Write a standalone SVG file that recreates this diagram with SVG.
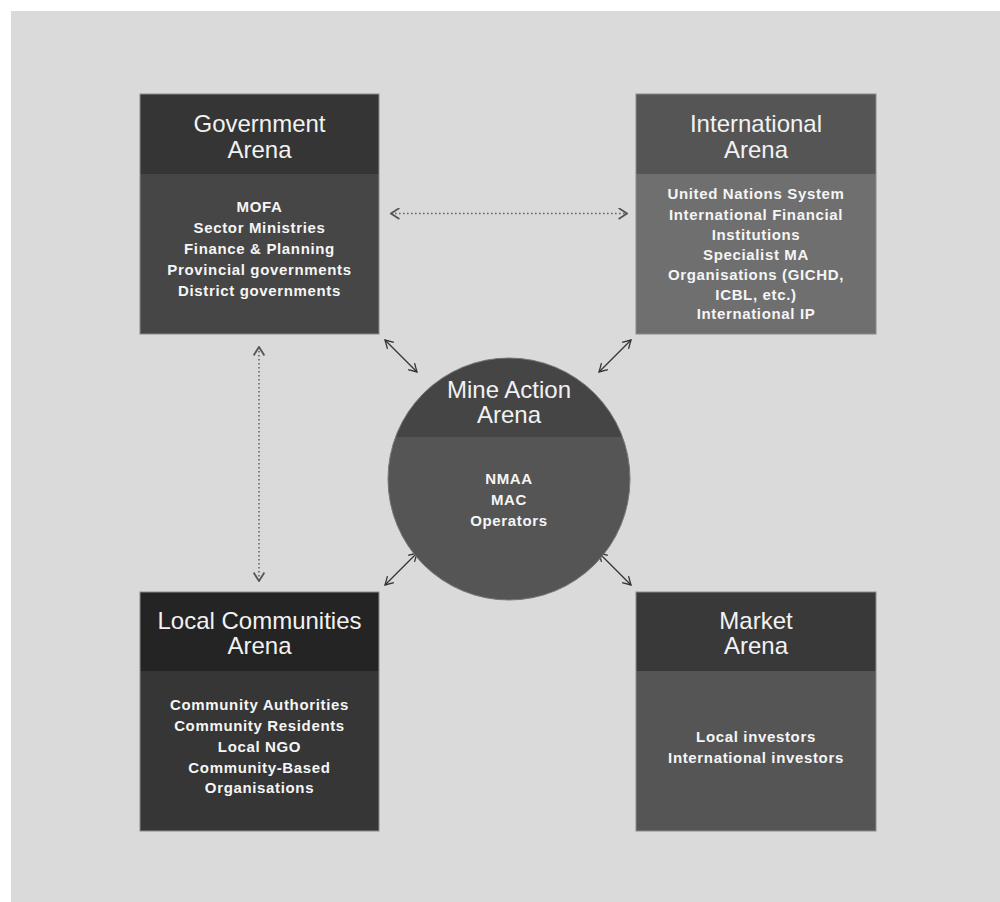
<svg xmlns="http://www.w3.org/2000/svg" width="1000" height="902" viewBox="0 0 1000 902">
<style>
.title{font-family:"Liberation Sans",Arial,sans-serif;font-size:24px;fill:#f2f2f2;text-anchor:middle}
.body{font-family:"Liberation Sans",Arial,sans-serif;font-size:15px;font-weight:bold;letter-spacing:0.65px;fill:#f5f5f5;text-anchor:middle}
.edge{fill:none;stroke:#8a8a8a;stroke-width:1}
.dot{fill:none;stroke:#666;stroke-width:1.6;stroke-dasharray:1.6 2.4}
.solid{fill:none;stroke:#333;stroke-width:1.2}
</style>
<defs>
<marker id="ah" viewBox="0 0 10 10" refX="9" refY="5" markerWidth="10" markerHeight="10" markerUnits="userSpaceOnUse" orient="auto-start-reverse">
<path d="M1,0.5 L9,5 L1,9.5" fill="none" stroke="#333" stroke-width="1.3"/>
</marker>
<marker id="ahd" viewBox="0 0 10 10" refX="9" refY="5" markerWidth="12" markerHeight="12" markerUnits="userSpaceOnUse" orient="auto-start-reverse">
<path d="M2,0.5 L9,5 L2,9.5" fill="none" stroke="#555" stroke-width="1.5"/>
</marker>
</defs>
<rect x="0" y="0" width="1000" height="902" fill="#ffffff"/>
<rect x="11" y="11" width="989" height="891" fill="#dadada"/>

<g id="connectors">
<line class="dot" x1="391" y1="213.5" x2="627" y2="213.5" marker-start="url(#ahd)" marker-end="url(#ahd)"/>
<line class="dot" x1="259" y1="347" x2="259" y2="581" marker-start="url(#ahd)" marker-end="url(#ahd)"/>
<line class="solid" x1="385" y1="340" x2="417" y2="372" marker-start="url(#ah)" marker-end="url(#ah)"/>
<line class="solid" x1="599" y1="372" x2="631" y2="340" marker-start="url(#ah)" marker-end="url(#ah)"/>
<line class="solid" x1="385" y1="585" x2="417" y2="553" marker-start="url(#ah)" marker-end="url(#ah)"/>
<line class="solid" x1="599" y1="553" x2="631" y2="585" marker-start="url(#ah)" marker-end="url(#ah)"/>
</g>

<g id="government">
<rect x="140" y="94" width="239" height="80" fill="#353535"/>
<rect x="140" y="174" width="239" height="160" fill="#464646"/>
<rect class="edge" x="140" y="94" width="239" height="240"/>
<text class="title" x="259.5" y="132">Government</text>
<text class="title" x="259.5" y="158">Arena</text>
<text class="body" x="259.5" y="212">MOFA</text>
<text class="body" x="259.5" y="233">Sector Ministries</text>
<text class="body" x="259.5" y="254">Finance &amp; Planning</text>
<text class="body" x="259.5" y="275">Provincial governments</text>
<text class="body" x="259.5" y="296">District governments</text>
</g>

<g id="international">
<rect x="636" y="94" width="240" height="80" fill="#555555"/>
<rect x="636" y="174" width="240" height="160" fill="#6f6f6f"/>
<rect class="edge" x="636" y="94" width="240" height="240"/>
<text class="title" x="756" y="132">International</text>
<text class="title" x="756" y="158">Arena</text>
<text class="body" x="756" y="199">United Nations System</text>
<text class="body" x="756" y="219.5">International Financial</text>
<text class="body" x="756" y="239.5">Institutions</text>
<text class="body" x="756" y="259.5">Specialist MA</text>
<text class="body" x="756" y="279.5">Organisations (GICHD,</text>
<text class="body" x="756" y="299.5">ICBL, etc.)</text>
<text class="body" x="756" y="319">International IP</text>
</g>

<g id="mine-action">
<clipPath id="cc"><circle cx="509" cy="479" r="121"/></clipPath>
<g clip-path="url(#cc)">
<rect x="388" y="358" width="242" height="80" fill="#454545"/>
<rect x="388" y="437" width="242" height="164" fill="#555555"/>
</g>
<circle cx="509" cy="479" r="121" fill="none" stroke="#777" stroke-width="1"/>
<text class="title" x="509" y="397.5">Mine Action</text>
<text class="title" x="509" y="423">Arena</text>
<text class="body" x="509" y="484">NMAA</text>
<text class="body" x="509" y="505">MAC</text>
<text class="body" x="509" y="526">Operators</text>
</g>

<g id="local-communities">
<rect x="140" y="592" width="239" height="79" fill="#242424"/>
<rect x="140" y="671" width="239" height="160" fill="#363636"/>
<rect class="edge" x="140" y="592" width="239" height="239"/>
<text class="title" x="259.5" y="628.5">Local Communities</text>
<text class="title" x="259.5" y="654">Arena</text>
<text class="body" x="259.5" y="710">Community Authorities</text>
<text class="body" x="259.5" y="731">Community Residents</text>
<text class="body" x="259.5" y="752">Local NGO</text>
<text class="body" x="259.5" y="773">Community-Based</text>
<text class="body" x="259.5" y="793">Organisations</text>
</g>

<g id="market">
<rect x="636" y="592" width="240" height="79" fill="#393939"/>
<rect x="636" y="671" width="240" height="160" fill="#555555"/>
<rect class="edge" x="636" y="592" width="240" height="239"/>
<text class="title" x="756" y="628.5">Market</text>
<text class="title" x="756" y="654">Arena</text>
<text class="body" x="756" y="742">Local investors</text>
<text class="body" x="756" y="763">International investors</text>
</g>
</svg>
